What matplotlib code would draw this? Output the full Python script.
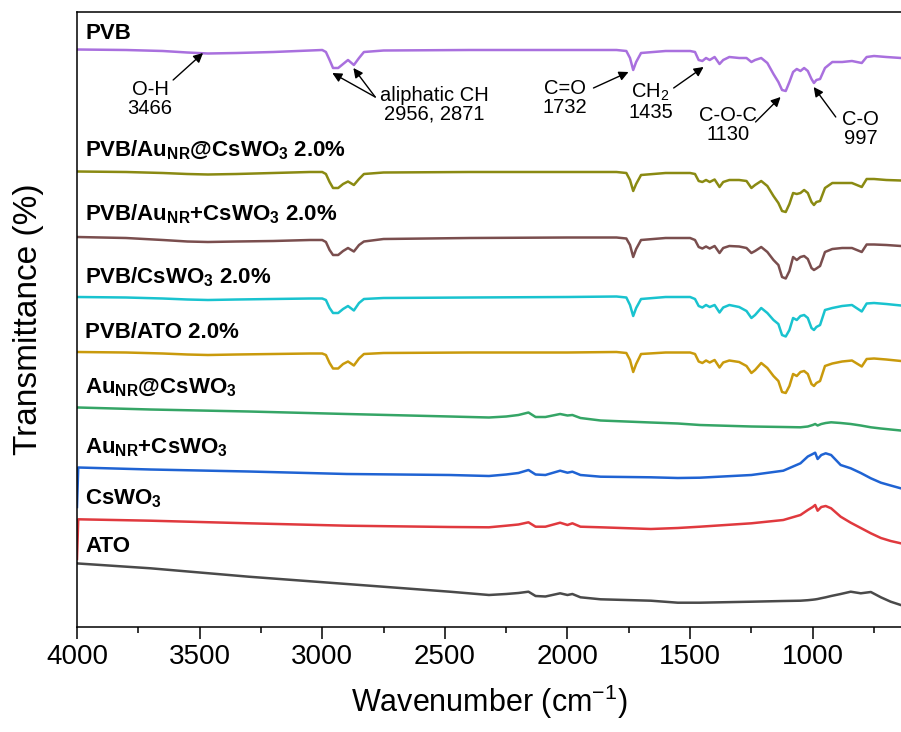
import numpy as np
import matplotlib
matplotlib.use('Agg')
import matplotlib.pyplot as plt
from matplotlib.ticker import MultipleLocator

plt.rcParams['font.family'] = 'Liberation Sans'
plt.rcParams['mathtext.fontset'] = 'custom'
plt.rcParams['mathtext.rm'] = 'Liberation Sans'
plt.rcParams['mathtext.bf'] = 'Liberation Sans:bold'
plt.rcParams['mathtext.it'] = 'Liberation Sans:italic'

# ---- data (transmittance in arbitrary stacked units) ----
wn_film = [4000, 3800, 3650, 3550, 3466, 3350, 3200, 3050, 3000, 2985,
           2970, 2956, 2935, 2915, 2895, 2871, 2850, 2830, 2750, 2400,
           2000, 1800, 1760, 1745, 1732, 1720, 1700, 1600, 1500, 1480,
           1465, 1450, 1435, 1420, 1400, 1380, 1365, 1340, 1300, 1270,
           1250, 1235, 1210, 1185, 1160, 1140, 1125, 1110, 1095, 1080,
           1065, 1050, 1035, 1020, 1005, 995, 985, 970, 950, 920,
           880, 840, 800, 780, 750, 700, 640]

t_pvb = [577.5, 577, 576, 574.5, 573.5, 574, 575, 576.5, 577, 575,
         567, 559, 559, 563, 567, 562, 569, 575, 576.5, 577,
         577, 577, 576, 569, 557, 565, 574, 576, 576, 575,
         567, 566, 569, 567, 570, 563, 567, 570, 569, 569,
         565, 567, 569, 564, 553, 545, 537, 536, 545, 555,
         558, 556, 559, 556, 548, 544, 547, 548, 559, 565,
         565, 566, 564, 570, 571, 570, 569]

t_pvb_au_at = [455.5, 455, 454, 453, 452.5, 453, 454, 455, 455, 453,
               445, 439, 439, 443, 445.5, 442, 448, 453, 454.5, 455,
               455, 455, 454, 447, 436, 443, 452, 454, 454, 453,
               446, 445, 447, 445, 447.5, 440, 445, 447, 447, 446,
               439, 442, 446, 441, 431, 424, 416, 415, 423, 434,
               433, 434, 437, 434, 425, 422, 425, 426, 439, 444,
               444, 444, 440, 448, 448, 447, 446.5]

t_pvb_au_plus = [390, 389, 387, 385.5, 385, 385.5, 386, 387, 387, 385,
                 377, 372, 372, 376, 379, 375.5, 382, 385.5, 388, 389,
                 389.5, 389.5, 388.5, 382, 370, 378, 387, 389, 389, 387,
                 380, 378.5, 380.5, 378.5, 381, 374, 379, 381, 380.5, 379,
                 374, 376, 380, 375, 367, 362, 350, 348.5, 356, 370,
                 367, 370, 371, 368, 359, 357, 358.5, 361, 375, 378,
                 379, 379, 375, 382.5, 382.5, 382, 381]

t_pvb_cswo = [330, 329.5, 328.5, 327.5, 327, 327.5, 328, 328.5, 328.5, 327,
              319, 314, 314, 318, 321, 316.5, 324, 328, 329, 329.5,
              330, 330.5, 329.5, 322, 311, 319, 328, 330, 330, 328,
              321, 319.5, 322, 320, 322, 314.5, 319.5, 322, 320, 316,
              309, 312, 319, 314, 307, 303, 292, 290.5, 297, 309,
              307, 311, 312, 309, 299, 297, 300, 302, 317, 319,
              321, 322, 315.5, 323.5, 324, 323, 321.5]

t_pvb_ato = [275, 274.5, 273.5, 272.5, 272, 272.5, 273, 273.5, 273.5, 272,
             264, 258.5, 258.5, 263, 265.5, 261.5, 268.5, 273, 274, 274.5,
             274.5, 275, 274, 267, 255, 263, 273, 274.5, 274.5, 273,
             265.5, 264, 266.5, 264.5, 267, 259.5, 264.5, 266.5, 265, 261,
             254, 257, 264, 259, 251, 246, 235, 234, 241, 253,
             251, 255, 256, 253, 243, 241, 244, 246, 261, 263.5,
             265.5, 266.5, 260.5, 268, 268.5, 267.5, 266]

wn_powder = [4000, 3995, 3700, 3300, 2900, 2480, 2320, 2250, 2200, 2159,
             2130, 2090, 2030, 2000, 1980, 1947, 1865, 1660, 1550, 1460,
             1250, 1120, 1050, 1020, 1000, 990, 980, 965, 947, 925,
             886, 845, 804, 763, 722, 682, 641]

t_au_at = [219.5, 219.5, 217.5, 215.5, 213, 210.5, 209.5, 210.5, 212, 214.5,
           210, 210, 213, 211.5, 212, 209, 206.5, 204.5, 203.5, 202,
           200.5, 200, 199.7, 200.5, 202, 203, 201.5, 203, 204, 204.7,
           204, 203, 201.5, 199.7, 198.5, 197.5, 196.5]

t_au_plus = [120, 159.5, 157.5, 155.5, 153, 152, 151, 152.5, 154, 157,
             152.5, 152, 156.3, 154.3, 155.3, 152, 150.3, 149.7, 149, 149.3,
             152, 156.3, 163.7, 170.5, 173, 174.3, 168, 172, 173.7, 172,
             162, 158.7, 154, 148.7, 144.3, 141.5, 138.7]

t_cswo = [68, 107.7, 106.3, 103.7, 101.3, 100, 99.7, 101.3, 102.5, 104.7,
          100.3, 100.3, 104.3, 102, 103.7, 100.3, 99.7, 98, 99, 100.3,
          103.7, 107, 112, 117, 120, 122, 116.3, 120, 121, 118.7,
          110.3, 104.3, 99, 93.7, 89, 86, 83.7]

t_ato = [63.7, 63.5, 58.7, 50.3, 43, 35.3, 32, 33, 34, 35.3,
         31, 30.5, 33.7, 32, 33, 29.7, 27.7, 26.3, 24.3, 24.3,
         25.3, 26, 26.3, 26.8, 27.3, 27.6, 28, 28.8, 29.7, 31,
         33, 35.3, 33.7, 35, 29.7, 25.3, 22]

names = ['PVB',
         r'PVB/Au$_{\mathbf{NR}}$@CsWO$_{\mathbf{3}}$ 2.0%',
         r'PVB/Au$_{\mathbf{NR}}$+CsWO$_{\mathbf{3}}$ 2.0%',
         r'PVB/CsWO$_{\mathbf{3}}$ 2.0%',
         'PVB/ATO 2.0%',
         r'Au$_{\mathbf{NR}}$@CsWO$_{\mathbf{3}}$',
         r'Au$_{\mathbf{NR}}$+CsWO$_{\mathbf{3}}$',
         r'CsWO$_{\mathbf{3}}$',
         'ATO']
# label baselines (same units as the spectra)
name_y = [588, 471, 407, 344, 289, 234, 174, 123, 75]

# peak assignments: text, text centre, arrow tails -> arrow tips
peak_text = ['O-H\n3466', 'aliphatic CH\n2956, 2871', 'C=O\n1732',
             'CH$_2$\n1435', 'C-O-C\n1130', 'C-O\n997']
peak_text_xy = [(3702, 528), (2543, 522), (2012, 529), (1661, 525),
                (1347, 502), (804, 498)]
arrows = [((3608, 547), (3486, 574)),
          ((2784, 530), (2959, 554)),
          ((2784, 530), (2873, 559)),
          ((1894, 539), (1751, 555)),
          ((1567, 539), (1445, 560)),
          ((1233, 505), (1131, 530)),
          ((906, 510), (996, 540))]

colors = ['#A970DE', '#8A8A12', '#7A4E4E', '#19C3CF', '#C99A0C',
          '#35A566', '#1F63D3', '#E0393E', '#4A4A4A']

# ---- plot ----
fig = plt.figure(figsize=(9.01, 7.32), dpi=100)
ax = fig.add_axes([77 / 901, 105 / 732, 824 / 901, 615 / 732])

spectra = [(wn_film, t_pvb), (wn_film, t_pvb_au_at), (wn_film, t_pvb_au_plus),
           (wn_film, t_pvb_cswo), (wn_film, t_pvb_ato),
           (wn_powder, t_au_at), (wn_powder, t_au_plus),
           (wn_powder, t_cswo), (wn_powder, t_ato)]

for (x, y), c in zip(spectra, colors):
    ax.plot(x, y, color=c, lw=1.8, solid_joinstyle='round')

for name, y in zip(names, name_y):
    ax.text(3967, y, name, fontsize=16, fontweight='bold', ha='left', va='baseline')

for txt, (x, y) in zip(peak_text, peak_text_xy):
    ax.text(x, y, txt, fontsize=14.5, ha='center', va='center', linespacing=1.0)

for tail, tip in arrows:
    ax.annotate('', xy=tip, xytext=tail,
                arrowprops=dict(arrowstyle='-|>', color='black', lw=1.0,
                                shrinkA=0, shrinkB=0, mutation_scale=14))

ax.set_xlim(4000, 640)
ax.set_ylim(0, 615)
ax.xaxis.set_major_locator(MultipleLocator(500))
ax.xaxis.set_minor_locator(MultipleLocator(250))
ax.set_yticks([])
ax.spines['right'].set_visible(False)
for s in ['top', 'bottom', 'left']:
    ax.spines[s].set_linewidth(1.1)
ax.tick_params(axis='x', which='major', direction='out', length=8.5, width=1.1,
               labelsize=20, pad=4)
ax.tick_params(axis='x', which='minor', direction='out', length=4.3, width=1.1)

ax.set_xlabel('Wavenumber (cm$^{-1}$)', fontsize=22, labelpad=9)
ax.set_ylabel('Transmittance (%)', fontsize=24)
ax.yaxis.set_label_coords(-0.04, 0.5)

fig.savefig('out.png', dpi=100)
